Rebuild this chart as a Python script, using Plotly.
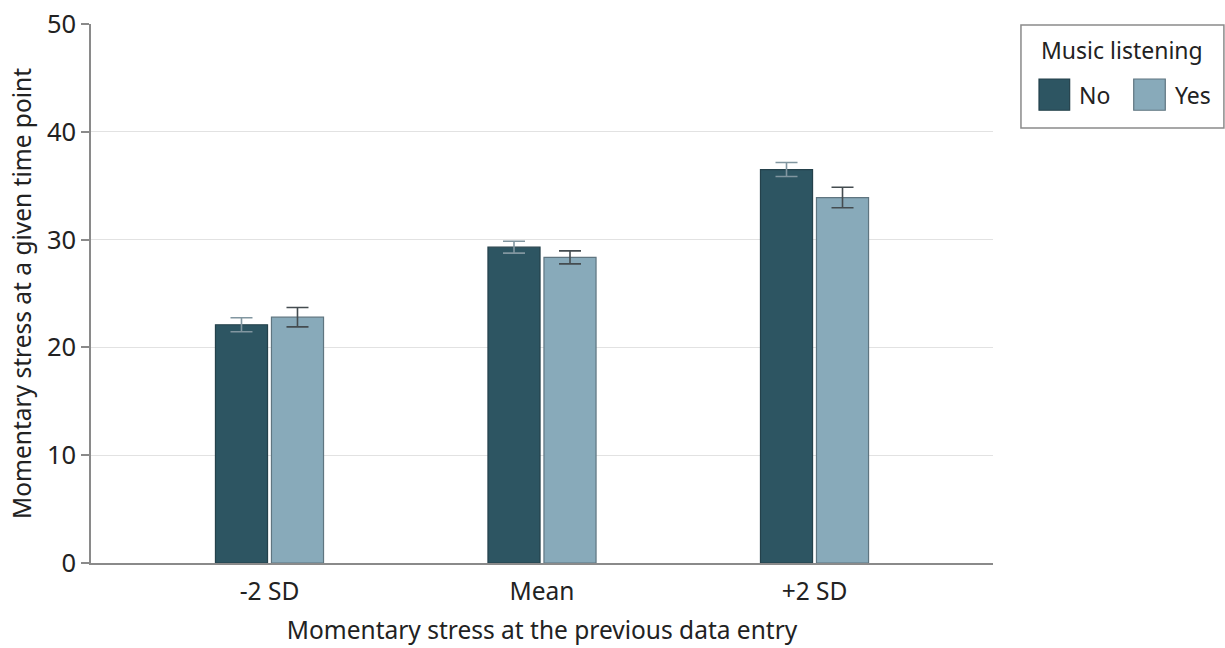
import plotly.graph_objects as go

categories = ["-2 SD", "Mean", "+2 SD"]
no_values = [22.1, 29.3, 36.5]
no_err = [0.65, 0.55, 0.65]
yes_values = [22.8, 28.35, 33.9]
yes_err = [0.9, 0.6, 0.95]
y_ticks = [0, 10, 20, 30, 40, 50]
legend_title = "Music listening"
series_names = ["No", "Yes"]

C_NO = "#2d5562"
C_YES = "#88aaba"
FONT = "Noto Sans"
TXT = "#222222"

fig = go.Figure()
fig.add_trace(go.Bar(
    x=categories, y=no_values, name=series_names[0],
    marker=dict(color=C_NO, line=dict(color="#24414b", width=1.2)),
    error_y=dict(type="data", array=no_err, color="#8196a0", thickness=1.6, width=11),
    showlegend=False,
))
fig.add_trace(go.Bar(
    x=categories, y=yes_values, name=series_names[1],
    marker=dict(color=C_YES, line=dict(color="#5f7580", width=1.2)),
    error_y=dict(type="data", array=yes_err, color="#444c50", thickness=1.6, width=11),
    showlegend=False,
))

fig.update_layout(
    width=1225, height=648,
    margin=dict(l=91, r=232, t=24, b=85),
    paper_bgcolor="white", plot_bgcolor="white",
    barmode="group", bargap=0.589, bargroupgap=0.07,
    font=dict(family=FONT, size=22, color=TXT),
    xaxis=dict(
        range=[-0.655, 2.655], showgrid=False, showline=True,
        linecolor="#8a8a8a", linewidth=1.5, ticks="",
        tickfont=dict(size=24.5, color=TXT), ticklabelstandoff=6,
        automargin=False,
        title=dict(text="Momentary stress at the previous data entry",
                   font=dict(size=24.5, color=TXT), standoff=16),
    ),
    yaxis=dict(
        range=[0, 50], tickvals=y_ticks, showgrid=True, gridcolor="#e2e2e2",
        gridwidth=1.2, showline=True, linecolor="#8a8a8a", linewidth=1.5,
        ticks="outside", ticklen=8, tickcolor="#8a8a8a", tickwidth=1.5,
        zeroline=False, tickfont=dict(size=25.5, color=TXT),
        automargin=False,
        title=dict(text="Momentary stress at a given time point",
                   font=dict(size=24.5, color=TXT), standoff=8),
    ),
)

# Manual legend (large swatches as in the reference)
fig.add_shape(type="rect", xref="paper", yref="paper",
              x0=1.031, x1=1.256, y0=0.807, y1=0.998,
              line=dict(color="#8a8a8a", width=1.5), fillcolor="white")
fig.add_annotation(xref="paper", yref="paper", x=1.143, y=0.951,
                   text=legend_title, showarrow=False,
                   font=dict(size=23, color=TXT), xanchor="center", yanchor="middle")
fig.add_shape(type="rect", xref="paper", yref="paper",
              x0=1.051, x1=1.085, y0=0.840, y1=0.898,
              line=dict(color="#24414b", width=1.2), fillcolor=C_NO)
fig.add_annotation(xref="paper", yref="paper", x=1.093, y=0.869,
                   text=series_names[0], showarrow=False,
                   font=dict(size=23, color=TXT), xanchor="left", yanchor="middle")
fig.add_shape(type="rect", xref="paper", yref="paper",
              x0=1.156, x1=1.191, y0=0.840, y1=0.898,
              line=dict(color="#5f7580", width=1.2), fillcolor=C_YES)
fig.add_annotation(xref="paper", yref="paper", x=1.2, y=0.869,
                   text=series_names[1], showarrow=False,
                   font=dict(size=23, color=TXT), xanchor="left", yanchor="middle")

fig.write_html("out.html", config={"displayModeBar": False})

# remove default page margin so the figure sits at the window origin
with open("out.html", "r", encoding="utf-8") as f:
    html = f.read()
html = html.replace("<head>", "<head><style>html,body{margin:0;padding:0;overflow:hidden}</style>", 1)
with open("out.html", "w", encoding="utf-8") as f:
    f.write(html)
